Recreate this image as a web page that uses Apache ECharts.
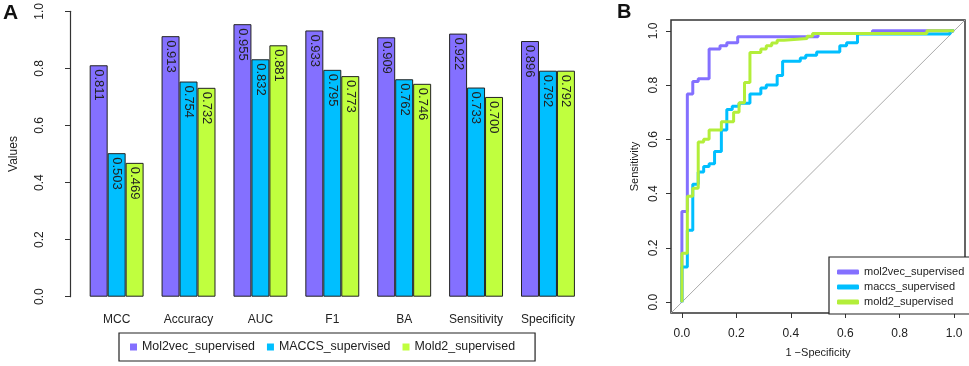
<!DOCTYPE html>
<html>
<head>
<meta charset="utf-8">
<script src="https://cdn.jsdelivr.net/npm/echarts@6/dist/echarts.min.js"></script>
<style>
  html, body { margin: 0; padding: 0; background: #fff; }
  #main { width: 969px; height: 366px; }
</style>
</head>
<body>
<div id="main"></div>
<script>
// panel A: metric bars
var metrics = ['MCC', 'Accuracy', 'AUC', 'F1', 'BA', 'Sensitivity', 'Specificity'];
var mol2vecVals = [0.811, 0.913, 0.955, 0.933, 0.909, 0.922, 0.896];
var maccsVals = [0.503, 0.754, 0.832, 0.795, 0.762, 0.733, 0.792];
var mold2Vals = [0.469, 0.732, 0.881, 0.773, 0.746, 0.700, 0.792];
var barNames = ['Mol2vec_supervised', 'MACCS_supervised', 'Mold2_supervised'];

// panel B: ROC curves (corner points, 1-specificity / sensitivity)
var mol2vecFpr = [0, 0, 0.02, 0.04, 0.06, 0.10, 0.14, 0.165, 0.205, 0.50, 0.70, 1.0];
var mol2vecTpr = [0, 0.334, 0.767, 0.813, 0.823, 0.933, 0.945, 0.956, 0.978, 0.99, 1.0, 1.0];
var maccsFpr = [0, 0, 0.02, 0.04, 0.06, 0.08, 0.10, 0.12, 0.145, 0.165, 0.185, 0.21, 0.25,
    0.29, 0.31, 0.35, 0.37, 0.435, 0.455, 0.495, 0.58, 0.605, 0.645, 0.985, 1.0];
var maccsTpr = [0, 0.13, 0.265, 0.435, 0.48, 0.50, 0.51, 0.555, 0.635, 0.71, 0.722, 0.733, 0.767,
    0.789, 0.80, 0.835, 0.888, 0.90, 0.91, 0.922, 0.945, 0.956, 0.988, 1.0, 1.0];
var mold2Fpr = [0, 0, 0.02, 0.04, 0.06, 0.08, 0.10, 0.145, 0.19, 0.21, 0.23, 0.25, 0.29, 0.31,
    0.33, 0.35, 0.375, 0.46, 0.48, 0.90, 1.0];
var mold2Tpr = [0, 0.18, 0.39, 0.42, 0.59, 0.60, 0.635, 0.665, 0.70, 0.735, 0.81, 0.92, 0.933, 0.945,
    0.955, 0.965, 0.972, 0.98, 0.99, 1.0, 1.0];
var rocNames = ['mol2vec_supervised', 'maccs_supervised', 'mold2_supervised'];
var identityLine = [-0.04, 1.04];
var rocTicks = [0, 0.2, 0.4, 0.6, 0.8, 1.0];

var colPurple = '#8470FF';
var colCyan = '#00BFFF';
var colGreen = '#C0FF3E';
var colGreenLine = '#B3EE3A';
var font = 'Liberation Sans, Arial, sans-serif';
var ink = '#222';

function pairs(xs, ys) {
    return xs.map(function (x, i) { return [x, ys[i]]; });
}

function barSeries(name, vals, color) {
    return {
        name: name,
        type: 'bar',
        xAxisIndex: 0,
        yAxisIndex: 0,
        barWidth: '25%',
        barGap: '0%',
        data: vals,
        itemStyle: { color: color, borderColor: ink, borderWidth: 1 },
        label: {
            show: true,
            position: 'insideTop',
            rotate: -90,
            align: 'left',
            verticalAlign: 'middle',
            distance: 4,
            fontFamily: font,
            fontSize: 13,
            color: ink,
            formatter: function (p) { return p.value.toFixed(3); }
        }
    };
}

function rocSeries(name, xs, ys, color) {
    return {
        name: name,
        type: 'line',
        xAxisIndex: 1,
        yAxisIndex: 1,
        step: 'end',
        showSymbol: false,
        data: pairs(xs, ys),
        lineStyle: { color: color, width: 3 },
        itemStyle: { color: color }
    };
}

var myChart = echarts.init(document.getElementById('main'), null, { renderer: 'canvas' });
var option = {
    animation: false,
    backgroundColor: '#fff',
    textStyle: { fontFamily: font },
    graphic: [
        { type: 'text', left: 3, top: 3, style: { text: 'A', font: 'bold 21px ' + font, fill: '#111' } },
        { type: 'text', left: 617, top: 2, style: { text: 'B', font: 'bold 20px ' + font, fill: '#111' } }
    ],
    grid: [
        { left: 68.7, top: 10, width: 515.2, height: 286.7 },
        { left: 671, top: 20, width: 294, height: 293, show: true, borderColor: '#333', borderWidth: 1.5 }
    ],
    legend: [
        {
            data: barNames,
            left: 119,
            top: 333,
            padding: [8, 20, 8, 11],
            itemGap: 12,
            itemWidth: 7,
            itemHeight: 7,
            icon: 'rect',
            itemStyle: { borderWidth: 0 },
            borderColor: ink,
            borderWidth: 1.2,
            textStyle: { fontFamily: font, fontSize: 12.4, color: ink }
        },
        {
            data: rocNames,
            orient: 'vertical',
            left: 829,
            top: 257,
            padding: [9, 6, 6, 8],
            itemGap: 3,
            itemWidth: 22,
            itemHeight: 5,
            icon: 'roundRect',
            borderColor: ink,
            borderWidth: 1.2,
            backgroundColor: '#fff',
            textStyle: { fontFamily: font, fontSize: 11, color: ink, lineHeight: 12 }
        }
    ],
    xAxis: [
        {
            type: 'category',
            gridIndex: 0,
            data: metrics,
            axisLine: { show: false },
            axisTick: { show: false },
            axisLabel: { margin: 17, fontFamily: font, fontSize: 12, color: ink }
        },
        {
            type: 'value',
            gridIndex: 1,
            min: -0.04,
            max: 1.04,
            name: '1 \u2212Specificity',
            nameLocation: 'middle',
            nameGap: 34,
            nameTextStyle: { fontFamily: font, fontSize: 11, color: ink },
            splitLine: { show: false },
            axisLine: { show: false, onZero: false },
            axisTick: { show: true, length: 5, customValues: rocTicks, lineStyle: { color: '#333' } },
            axisLabel: {
                margin: 15,
                fontFamily: font,
                fontSize: 12,
                color: ink,
                customValues: rocTicks,
                formatter: function (v) { return v.toFixed(1); }
            }
        }
    ],
    yAxis: [
        {
            type: 'value',
            gridIndex: 0,
            min: 0,
            max: 1,
            interval: 0.2,
            offset: 10.7,
            name: 'Values',
            nameLocation: 'middle',
            nameGap: 50,
            nameTextStyle: { fontFamily: font, fontSize: 12, color: ink },
            splitLine: { show: false },
            axisLine: { show: true, lineStyle: { color: '#333', width: 1.2 } },
            axisTick: { show: true, length: 5, lineStyle: { color: '#333' } },
            axisLabel: {
                rotate: 90,
                margin: 24,
                fontFamily: font,
                fontSize: 12,
                color: ink,
                formatter: function (v) { return v.toFixed(1); }
            }
        },
        {
            type: 'value',
            gridIndex: 1,
            min: -0.04,
            max: 1.04,
            name: 'Sensitivity',
            nameLocation: 'middle',
            nameGap: 31,
            nameTextStyle: { fontFamily: font, fontSize: 11, color: ink },
            splitLine: { show: false },
            axisLine: { show: false, onZero: false },
            axisTick: { show: true, length: 5, customValues: rocTicks, lineStyle: { color: '#333' } },
            axisLabel: {
                rotate: 90,
                margin: 11,
                fontFamily: font,
                fontSize: 12,
                color: ink,
                customValues: rocTicks,
                formatter: function (v) { return v.toFixed(1); }
            }
        }
    ],
    series: [
        barSeries(barNames[0], mol2vecVals, colPurple),
        barSeries(barNames[1], maccsVals, colCyan),
        barSeries(barNames[2], mold2Vals, colGreen),
        {
            name: 'identity',
            type: 'line',
            xAxisIndex: 1,
            yAxisIndex: 1,
            showSymbol: false,
            silent: true,
            data: pairs(identityLine, identityLine),
            lineStyle: { color: '#aaa', width: 1 }
        },
        rocSeries(rocNames[0], mol2vecFpr, mol2vecTpr, colPurple),
        rocSeries(rocNames[1], maccsFpr, maccsTpr, colCyan),
        rocSeries(rocNames[2], mold2Fpr, mold2Tpr, colGreenLine)
    ]
};
myChart.setOption(option);
</script>
</body>
</html>
